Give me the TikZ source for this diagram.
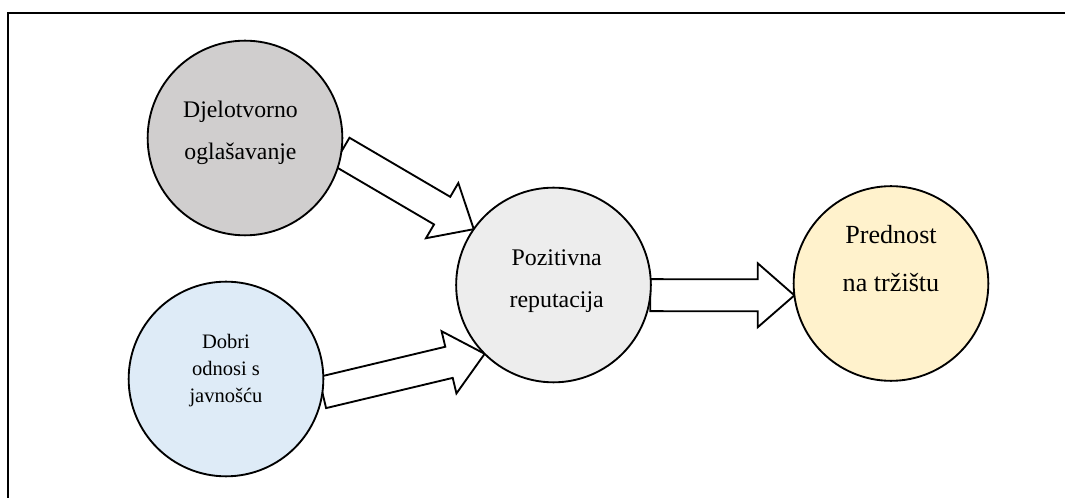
\documentclass[tikz,border=0pt]{standalone}
\usepackage{fontspec}
\setmainfont{Liberation Serif}
\usetikzlibrary{calc}
\pgfdeclarelayer{bg}
\pgfsetlayers{bg,main}
\definecolor{cgray}{HTML}{D0CECE}
\definecolor{cblue}{HTML}{DEEBF7}
\definecolor{clight}{HTML}{EDEDED}
\definecolor{cyellow}{HTML}{FFF2CC}
\tikzset{
  bubble/.style={circle, draw=black, line width=1.4pt, minimum size=146pt, inner sep=0pt, outer sep=0pt},
  blockarrowstyle/.style={draw=black, fill=white, line width=1.4pt, line join=miter},
  frameline/.style={line width=1.6pt},
  label/.style={align=center, anchor=base, inner sep=0pt}
}
\newcommand\blockarr[2]{%
  \coordinate (hb) at ($(#2)!27.5pt!(#1)$);
  \draw[blockarrowstyle]
    ($(#1)!12pt!90:(#2)$) -- ($(hb)!12pt!90:(#2)$) -- ($(hb)!24pt!90:(#2)$) --
    (#2) --
    ($(hb)!24pt!-90:(#2)$) -- ($(hb)!12pt!-90:(#2)$) -- ($(#1)!12pt!-90:(#2)$) -- cycle;
}
\begin{document}
\begin{tikzpicture}[x=0.75pt,y=-0.75pt]
\useasboundingbox (0,0) rectangle (1065,498);
\coordinate (fa) at (8,498);
\coordinate (fb) at (8,13);
\coordinate (fc) at (1066,13);
\draw[frameline] (fa) -- (fb) -- (fc);

\node[bubble, fill=cgray] (c1) at (245,138) {};
\node[bubble, fill=cblue] (c2) at (226,379) {};
\node[bubble, fill=clight] (c3) at (553.5,285) {};
\node[bubble, fill=cyellow] (c4) at (891,283.5) {};

\node[label, font=\fontsize{17.8}{31.5}\selectfont] (t1) at (240.5,160) {Djelotvorno\\oglašavanje};
\node[label, font=\fontsize{15.4}{20.5}\selectfont] (t2) at (226,403) {Dobri\\odnosi s\\javnošću};
\node[label, font=\fontsize{17.9}{31.5}\selectfont] (t3) at (556.7,308) {Pozitivna\\reputacija};
\node[label, font=\fontsize{19.6}{36}\selectfont] (t4) at (891,292) {Prednost\\na tržištu};

\begin{pgfonlayer}{bg}
\blockarr{c1.-8}{c3.145}
\blockarr{c2.-8}{c3.-135}
\blockarr{c3.-6}{c4.187}
\end{pgfonlayer}
\end{tikzpicture}
\end{document}
